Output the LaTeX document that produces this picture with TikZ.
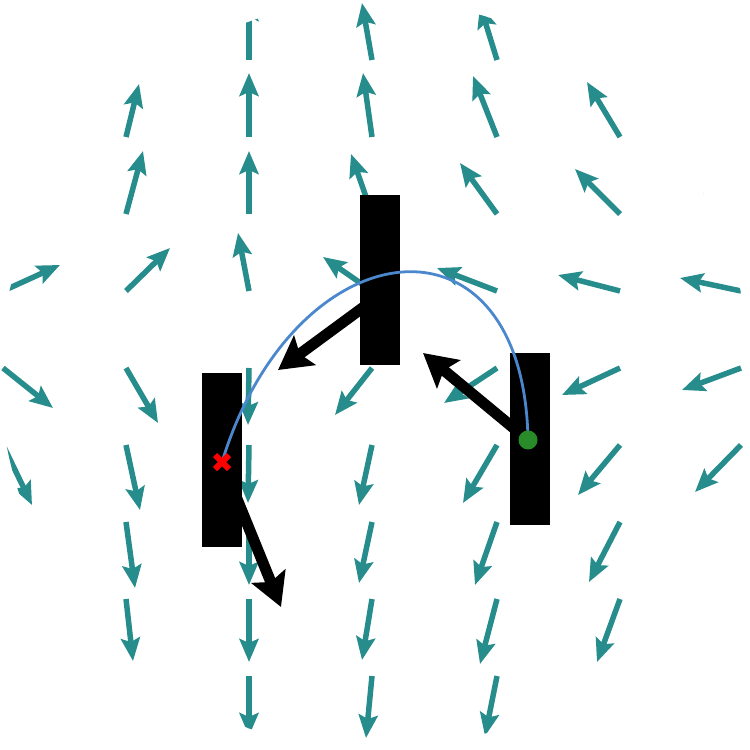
\documentclass[tikz,border=0pt]{standalone}
\usetikzlibrary{arrows.meta,shapes.misc}
\definecolor{fieldteal}{RGB}{38,140,140}
\definecolor{pathblue}{RGB}{75,135,205}
\definecolor{startgreen}{RGB}{40,140,40}

\begin{document}
\begin{tikzpicture}[x=0.1mm,y=-0.1mm,
  field/.style={draw=fieldteal,line width=0.55mm,-{Stealth[length=2.3mm,width=1.9mm,inset=0.4mm]}},
  bar/.style={fill=black,draw=none,inner sep=0pt,minimum width=4mm},
  push/.style={line width=1.1mm,-{Stealth[length=3.3mm,width=3.6mm,inset=0.6mm]}}]
\useasboundingbox (0,0) rectangle (750,750);
\clip (375,375) circle (37.5mm);
% vector field: tail and offset, in px
\foreach \x/\y/\dx/\dy in {
  249/60/0/-62, 372/60/-10/-57, 497/60/-17/-55,
  126/137/13/-53, 249/137/0/-64, 372/137/-9/-64, 497/137/-24/-61, 620/137/-33/-55,
  126/214/17/-63, 249/214/0/-63, 372/214/-21/-60, 497/214/-37/-51, 620/214/-45/-45, 741/214/-48/-42,
  3/291/57/-26, 126/291/44/-43, 249/291/-11/-58, 372/291/-49/-34, 497/291/-60/-23, 620/291/-62/-16, 741/291/-61/-13,
  3/368/50/40, 126/368/32/55, 249/368/-1/57, 372/368/-37/47, 497/368/-53/35, 620/368/-58/27, 741/368/-59/22,
  3/445/29/60, 126/445/14/65, 249/445/-1/58, 372/445/-13/60, 497/445/-34/58, 620/445/-42/50, 741/445/-46/47,
  126/522/9/66, 249/522/0/63, 372/522/-13/61, 497/522/-22/63, 620/522/-31/60,
  126/599/7/62, 249/599/0/63, 372/599/-10/61, 497/599/-17/65, 620/599/-23/63,
  249/676/0/60, 372/676/-6/62, 497/676/-12/60}
  \draw[field] (\x,\y) -- ++(\dx,\dy);

% bars
\node[bar,minimum height=17mm] (midbar) at (380,280) {};
\node[bar,minimum height=17.4mm] (leftbar) at (222,460) {};
\node[bar,minimum height=17.2mm] (rightbar) at (530,439) {};

\coordinate (start) at (528,440);
\coordinate (goal) at (222,462);
\coordinate (midpush) at (380,295);
\coordinate (leftend) at (278,370);
\coordinate (rightend) at (423,353);
\coordinate (downend) at (281,607);

% pushes
\draw[push] (midpush) -- (leftend);
\draw[push] (start) -- (rightend);
\draw[push] (goal) -- (downend);

% path
\draw[pathblue,line width=0.28mm] (start) .. controls (524,200) and (295,225) .. (goal);
\fill[startgreen] (start) circle (0.95mm);
\node[cross out,draw=red,line width=0.6mm,minimum size=0.8mm,inner sep=0pt] (goalmark) at (goal) {};
\end{tikzpicture}
\end{document}
